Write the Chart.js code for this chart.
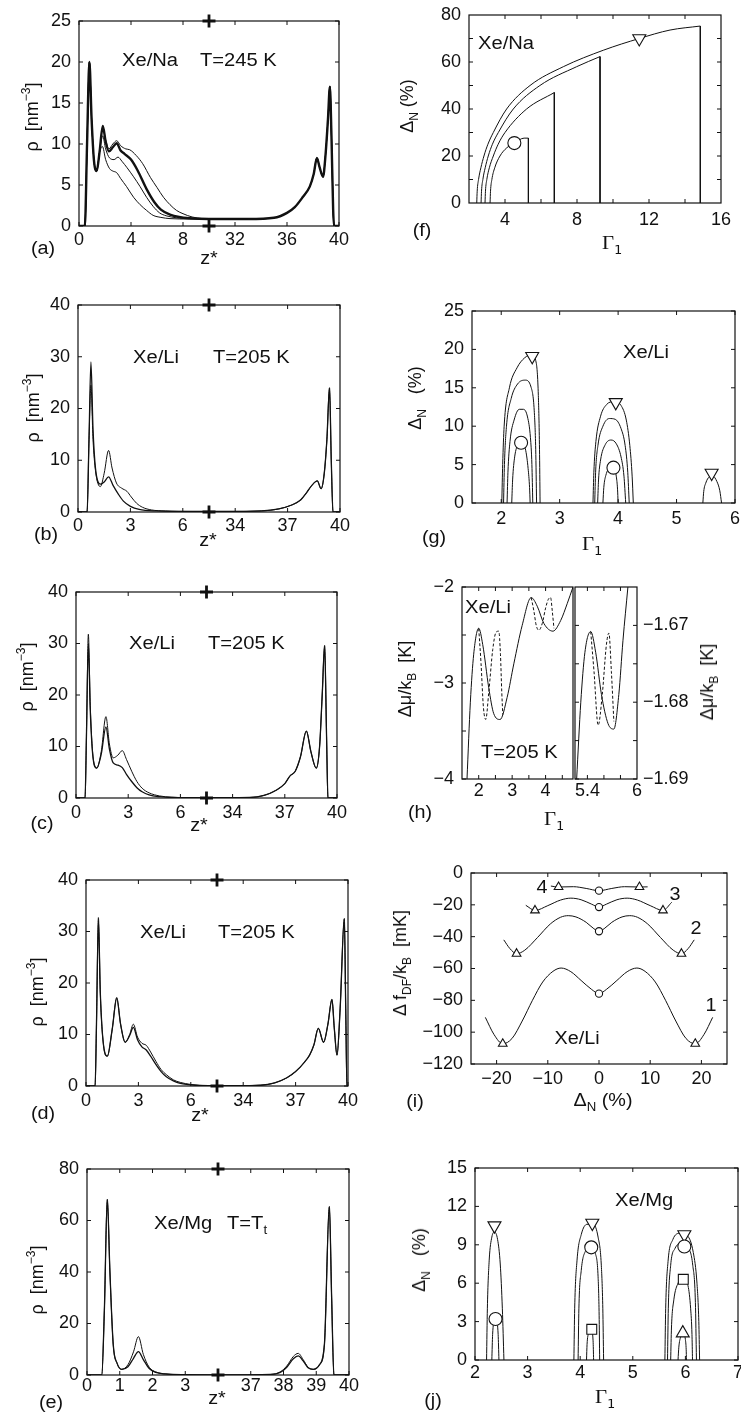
<!DOCTYPE html>
<html>
<head>
<meta charset="utf-8">
<script src="https://cdn.jsdelivr.net/npm/chart.js@4.4.1/dist/chart.umd.min.js"></script>
<style>
  body { margin: 0; background: #fff; width: 741px; height: 1412px; position: relative; overflow: hidden;
         font-family: "Liberation Sans", Arial, sans-serif; color: #111; }
  .t { position: absolute; white-space: nowrap; font-size: 18px; line-height: 1; z-index: 2;
       transform-origin: 0 50%; transform: translate(0, -50%) scaleX(1.12); }
  .c { transform-origin: 50% 50%; transform: translate(-50%, -50%) scaleX(1.1); }
  .r { transform-origin: 50% 50%; transform: translate(-50%, -50%) rotate(-90deg); }
  sub { font-size: 12px; vertical-align: -5px; line-height: 0; }
  sup { font-size: 12px; vertical-align: 8px; line-height: 0; }
  .g { font-family: "Liberation Serif", serif; font-size: 19px; }
  .g sub { font-family: "DejaVu Sans Mono", monospace; font-size: 12px; }
</style>
</head>
<body>
<script>
// ===================== data

// (a) Xe/Na, z* axis broken between 10 and 30
const aBreak = 10, aShift = 20;
const aTicks = [0, 4, 8, 12, 16, 20];
const aTickLabels = ['0', '4', '8', '32', '36', '40'];
const aHead = [[0,0],[0.45,0],[0.62,10],[0.8,20],[0.97,13],[1.15,8],[1.36,6.7],[1.58,9]];
const aRho1 = [[1.83,12.2],[2.05,10.3],[2.3,9.1],[2.6,9.6],[2.9,10.1],[3.2,9.2],[3.5,8.8],[4.0,8.1],[4.5,6.8],[5.2,4.5],[5.8,2.9],[6.3,2.0],[7.0,1.4],[7.7,1.1],[8.5,0.95],[10,0.85]];
const aRho2 = [[1.83,12.0],[2.05,10.5],[2.3,9.4],[2.6,10.0],[2.9,10.4],[3.2,9.8],[3.6,9.4],[3.9,9.3],[4.4,8.6],[4.9,7.6],[5.5,5.9],[6.0,4.7],[6.5,3.5],[7.0,2.6],[7.5,1.9],[8.0,1.5],[8.7,1.1],[9.5,0.9],[10,0.85]];
const aRho3 = [[1.82,11.0],[2.05,9.4],[2.35,8.3],[2.7,8.1],[3.0,8.4],[3.3,7.9],[3.7,7.1],[4.2,6.0],[4.7,4.8],[5.2,3.5],[5.7,2.4],[6.2,1.6],[6.7,1.25],[7.5,1.0],[8.5,0.9],[10,0.85]];
const aRho4 = [[1.8,9.7],[2.05,8.1],[2.35,7.0],[2.6,6.7],[2.9,6.5],[3.2,5.8],[3.66,4.8],[4.2,3.5],[4.7,2.6],[5.2,1.9],[5.7,1.3],[6.3,1.05],[7,0.9],[8.5,0.85],[10,0.85]];
const aTail = [[31,0.85],[33,0.85],[35,1.0],[36,1.6],[36.6,2.3],[37.2,3.5],[37.75,4.8],[38.05,6.3],[38.3,8.3],[38.5,7.2],[38.77,6.0],[38.97,8.8],[39.15,13],[39.3,17],[39.42,11],[39.55,2],[39.62,0],[40,0]];

// (b) Xe/Li, axis broken between 7.5 and 32.5
const bBreak = 7.5, bShift = 25;
const bTicks = [0, 3, 6, 9, 12, 15];
const bTickLabels = ['0', '3', '6', '34', '37', '40'];
const bHead = [[0,0],[0.52,0],[0.63,14]];
const bRho1 = [[0.74,24.5],[0.86,14],[1.0,8],[1.28,4.9],[1.5,7.5],[1.75,11.9],[1.95,8.5],[2.2,5.6],[2.5,4.6],[2.8,4.0],[3.05,2.9],[3.35,1.7],[3.7,0.9],[4.2,0.4],[5,0.2],[6.5,0.1]];
const bRho2 = [[0.74,29],[0.86,16],[1.0,8.5],[1.28,5.4],[1.5,5.8],[1.75,6.8],[2.0,5.2],[2.3,3.5],[2.6,2.1],[3.0,1.1],[3.5,0.5],[4.5,0.2],[6.5,0.1]];
const bTail = [[33.5,0.1],[35.5,0.2],[36.5,0.6],[37.2,1.3],[37.7,2.2],[38.1,3.8],[38.4,5.2],[38.7,6.0],[38.92,4.5],[39.1,7.5],[39.25,14],[39.4,24],[39.5,10],[39.6,0],[40,0]];

// (c) Xe/Li
const cHead = [[0,0],[0.52,0],[0.6,12]];
const cRho1 = [[0.71,31.8],[0.82,18],[0.98,8],[1.19,5.8],[1.45,9],[1.72,15.8],[1.92,10.5],[2.14,7.8],[2.4,8.3],[2.66,9.2],[2.9,7.5],[3.2,5.2],[3.5,3.2],[3.8,1.9],[4.2,1.0],[4.8,0.4],[5.5,0.15],[6.5,0.05]];
const cRho2 = [[0.71,30],[0.82,17],[0.98,7.8],[1.19,5.8],[1.45,8.5],[1.72,13.8],[1.92,9.5],[2.14,6.8],[2.4,6.4],[2.66,5.9],[2.9,4.6],[3.2,3.2],[3.5,2.0],[3.8,1.2],[4.2,0.6],[4.8,0.25],[5.5,0.1],[6.5,0.05]];
const cTail = [[33.5,0.05],[35,0.1],[35.8,0.5],[36.5,1.5],[37.0,2.8],[37.3,4.3],[37.6,5.2],[37.9,8],[38.24,13],[38.5,9],[38.81,5.8],[39.0,10],[39.15,20],[39.29,29.6],[39.4,12],[39.48,0],[40,0]];

// (d) Xe/Li
const dHead = [[0,0],[0.52,0],[0.6,12]];
const dRho1 = [[0.71,32.7],[0.82,18],[1.0,8],[1.22,5.8],[1.5,11],[1.76,17.2],[1.98,12],[2.24,8.5],[2.5,10],[2.71,12],[2.95,9.5],[3.2,8.3],[3.45,7.9],[3.7,6.6],[4.0,4.8],[4.3,3.2],[4.6,2.2],[5.0,1.2],[5.4,0.7],[6,0.3],[7,0.05]];
const dRho2 = [[0.71,32.2],[0.82,18],[1.0,8],[1.22,5.8],[1.5,11],[1.76,17.0],[1.98,12],[2.24,8.5],[2.5,9.8],[2.71,11.4],[2.95,9.0],[3.2,7.6],[3.45,7.0],[3.7,5.8],[4.0,4.2],[4.3,2.8],[4.6,1.8],[5.0,1.0],[5.4,0.5],[6,0.2],[7,0.05]];
const dTail = [[33.5,0.05],[35,0.15],[35.8,0.6],[36.5,1.6],[37.0,2.8],[37.5,4.6],[37.8,6.0],[38.05,8.0],[38.3,11.2],[38.6,8.5],[38.85,12],[39.08,16.8],[39.22,11],[39.37,6],[39.55,15],[39.79,32.5],[39.87,15],[39.94,0],[40,0]];

// (e) Xe/Mg, axis broken between 4 and 36
const eBreak = 4, eShift = 32;
const eTicks = [0, 1, 2, 3, 5, 6, 7, 8];
const eTickLabels = ['0', '1', '2', '3', '37', '38', '39', '40'];
const eHead = [[0,0],[0.45,0],[0.53,25],[0.62,68.2],[0.7,40],[0.8,12],[0.92,4.5],[1.06,2.2]];
const eRho1 = [[1.25,4],[1.42,9],[1.57,14.9],[1.72,8],[1.9,3],[2.1,1.2],[2.4,0.4],[3,0.1],[3.8,0]];
const eRho2 = [[1.25,3.2],[1.42,6.5],[1.57,9.1],[1.72,6],[1.9,2.5],[2.1,1.0],[2.4,0.4],[3,0.1],[3.8,0]];
const eTail1 = [[36.2,0],[37.6,0.2],[37.9,1.2],[38.1,3.5],[38.3,7.2],[38.45,8.4],[38.6,6],[38.75,3],[38.91,2.2],[39.1,4],[39.25,12],[39.4,65.4],[39.47,30],[39.54,0],[40,0]];
const eTail2 = [[36.2,0],[37.6,0.2],[37.9,1.0],[38.1,3.0],[38.3,6.3],[38.45,7.4],[38.6,5.5],[38.75,2.8],[38.91,2.2],[39.1,4],[39.25,12],[39.4,65.4],[39.47,30],[39.54,0],[40,0]];

// (f) Xe/Na, Delta_N vs Gamma_1
const fCurve1 = [[2.43,0],[2.455,5],[2.53,10],[2.66,15],[2.83,20],[3.05,25],[3.35,30],[4.09,40],[5.39,50],[7.24,58],[9.46,65],[11.46,70],[13.17,73.6],[14.85,75.3]];
const fCurve2 = [[2.67,0],[2.695,5],[2.77,10],[2.9,15],[3.07,20],[3.3,25],[3.63,30],[4.46,40],[5.94,50],[7.98,58],[9.28,62.3]];
const fCurve3 = [[2.89,0],[2.915,5],[2.99,10],[3.13,15],[3.35,20],[3.62,25],[4.0,30],[5.2,40],[6.74,47]];
const fCurve4 = [[3.17,0],[3.195,5],[3.27,10],[3.43,15],[3.72,20],[4.1,23.5],[4.52,25.5],[5.06,27.6],[5.3,27.6]];
const fCircle = [[4.52,25.5]];
const fTriangle = [[11.46,70]];

// (g) Xe/Li
const gA1 = [[2.01,0],[2.025,5],[2.05,10],[2.14,15],[2.27,17.6],[2.4,18.9],[2.52,19.3],[2.6,18.2],[2.635,14],[2.655,7],[2.665,0]];
const gA2 = [[2.04,0],[2.055,5],[2.09,10],[2.17,13.6],[2.28,15.5],[2.41,16],[2.51,15.1],[2.565,12],[2.59,7],[2.605,0]];
const gA3 = [[2.1,0],[2.115,4],[2.15,8],[2.22,10.8],[2.31,12.2],[2.38,12.2],[2.45,11.2],[2.5,8.5],[2.525,5],[2.54,0]];
const gA4 = [[2.18,0],[2.195,3],[2.23,6],[2.29,7.6],[2.36,7.9],[2.42,6.8],[2.46,4.5],[2.485,2],[2.495,0]];
const gB1 = [[3.57,0],[3.585,4],[3.62,8],[3.7,11.3],[3.8,12.8],[3.93,13.2],[4.05,12.7],[4.14,10.8],[4.2,7.5],[4.24,3.5],[4.26,0]];
const gB2 = [[3.6,0],[3.615,4],[3.655,7.5],[3.74,10],[3.85,11],[3.95,10.9],[4.05,9.7],[4.12,7.5],[4.165,4],[4.19,0]];
const gB3 = [[3.65,0],[3.665,3],[3.7,5.6],[3.78,7.6],[3.88,8.2],[3.97,7.7],[4.05,6.0],[4.1,3.5],[4.13,0]];
const gB4 = [[3.74,0],[3.755,2],[3.79,3.6],[3.86,4.5],[3.93,4.5],[3.97,3.4],[3.99,1.8],[4.0,0]];
const gC1 = [[5.45,0],[5.465,1.5],[5.5,2.6],[5.56,3.4],[5.62,3.5],[5.69,2.8],[5.74,1.6],[5.77,0]];
const gTriangles = [[2.53,19.1],[3.96,13.1],[5.6,3.9]];
const gCircles = [[2.34,7.85],[3.92,4.6]];

// (h) chemical potential, two x ranges
const hSolidL = [[1.65,-4],[1.75,-3.2],[1.85,-2.7],[2.0,-2.43],[2.12,-2.6],[2.3,-3.05],[2.45,-3.32],[2.64,-3.38],[2.85,-3.15],[3.05,-2.8],[3.3,-2.4],[3.57,-2.11],[3.75,-2.2],[3.95,-2.38],[4.22,-2.46],[4.45,-2.35],[4.65,-2.17],[4.82,-2.0]];
const hDashL1 = [[2.0,-2.43],[2.07,-2.8],[2.14,-3.25],[2.21,-3.38],[2.3,-3.1],[2.42,-2.65],[2.52,-2.47],[2.6,-2.46],[2.65,-2.7],[2.69,-3.1],[2.72,-3.33]];
const hDashL2 = [[3.57,-2.11],[3.65,-2.25],[3.72,-2.4],[3.8,-2.45],[3.9,-2.38],[4.0,-2.22],[4.08,-2.13],[4.15,-2.11],[4.2,-2.25],[4.25,-2.43]];
const hSolidR = [[5.27,-1.69],[5.32,-1.68],[5.37,-1.6735],[5.44,-1.6708],[5.5,-1.6735],[5.57,-1.679],[5.65,-1.6828],[5.72,-1.6835],[5.78,-1.679],[5.83,-1.672],[5.89,-1.665]];
const hDashR = [[5.44,-1.6708],[5.48,-1.676],[5.53,-1.683],[5.58,-1.679],[5.63,-1.6725],[5.66,-1.671],[5.69,-1.676],[5.72,-1.6825]];

// (i) free energy vs Delta_N
const iCurve1 = [[-22.2,-90.7],[-20.5,-101.5],[-18.8,-107.3],[-17,-104],[-15,-93],[-13,-80],[-11,-68.5],[-9,-61.8],[-7.4,-59.7],[-5.5,-62],[-3.5,-67.5],[-1.5,-73],[0,-75.8],[1.5,-73],[3.5,-67.5],[5.5,-62],[7.4,-59.7],[9,-61.8],[11,-68.5],[13,-80],[15,-93],[17,-104],[18.8,-107.3],[20.5,-101.5],[22.2,-90.7]];
const iCurve2 = [[-18.6,-42],[-17.4,-47.5],[-16.1,-50.7],[-14.5,-48.5],[-12,-40.5],[-9.5,-32],[-7.5,-27.8],[-6,-26.8],[-4.5,-27.6],[-2.5,-31],[-1,-35],[0,-36.6],[1,-35],[2.5,-31],[4.5,-27.6],[6,-26.8],[7.5,-27.8],[9.5,-32],[12,-40.5],[14.5,-48.5],[16.1,-50.7],[17.4,-47.5],[18.6,-42]];
const iCurve3 = [[-14.3,-20.3],[-12.5,-23.5],[-10,-20.5],[-7.5,-17],[-5.5,-15.8],[-3.5,-16.8],[-1.5,-19.5],[0,-21.4],[1.5,-19.5],[3.5,-16.8],[5.5,-15.8],[7.5,-17],[10,-20.5],[12.5,-23.5],[14.2,-18.4]];
const iCurve4 = [[-9.4,-8.2],[-7.9,-8.8],[-5,-8.6],[-2.5,-9.7],[0,-11.1],[2.5,-9.7],[5,-8.6],[7.9,-8.8],[9.5,-8.7]];
const iTriangles = [[-18.8,-107.3],[18.8,-107.3],[-16.1,-50.7],[16.1,-50.7],[-12.5,-23.5],[12.5,-23.5],[-7.9,-8.8],[7.9,-8.8]];
const iCircles = [[0,-75.8],[0,-36.6],[0,-21.4],[0,-11.1]];

// (j) Xe/Mg
const jA1 = [[2.22,0],[2.235,4],[2.27,7.8],[2.32,9.6],[2.37,10],[2.43,9.4],[2.48,7.5],[2.52,4],[2.55,0]];
const jA2 = [[2.32,0],[2.335,2],[2.37,3.0],[2.41,3.0],[2.44,2],[2.455,0]];
const jB1 = [[3.88,0],[3.895,4],[3.94,7.8],[4.02,9.8],[4.13,10.6],[4.25,10.6],[4.34,9.6],[4.4,7.5],[4.43,4],[4.445,0]];
const jB2 = [[3.96,0],[3.975,4],[4.02,7],[4.1,8.5],[4.2,8.8],[4.29,8.3],[4.34,6.5],[4.36,3.5],[4.37,0]];
const jB3 = [[4.12,0],[4.13,1.2],[4.16,2.1],[4.21,2.4],[4.245,1.5],[4.255,0]];
const jC1 = [[5.61,0],[5.625,4],[5.67,7.7],[5.76,9.4],[5.9,9.9],[6.04,9.7],[6.15,8.4],[6.22,6],[6.255,3],[6.27,0]];
const jC2 = [[5.66,0],[5.675,4],[5.72,7.4],[5.8,8.7],[5.93,9.1],[6.05,8.8],[6.14,7.4],[6.19,4.5],[6.21,0]];
const jC3 = [[5.72,0],[5.735,2.5],[5.78,4.7],[5.86,6.0],[5.96,6.4],[6.05,5.8],[6.1,4],[6.125,2],[6.135,0]];
const jC4 = [[5.86,0],[5.875,1],[5.91,1.8],[5.96,2.1],[6.0,1.6],[6.015,0.8],[6.02,0]];
const jTriangles = [[2.37,10.5],[4.23,10.7],[5.98,9.8]];
const jCircles = [[2.39,3.2],[4.21,8.8],[5.98,8.87]];
const jSquares = [[4.22,2.4],[5.96,6.3]];
const jUp = [[5.95,2.1]];

// ===================== helpers

const BLACK = '#111';
const FONT = {family: 'Liberation Sans', size: 18};

function num(v) { return String(v).replace('-', '\u2212'); }
function brk(cut, shift) { return z => (z <= cut ? z : z - shift); }
function pts(a, f) { return a.map(p => ({x: f ? f(p[0]) : p[0], y: p[1]})); }

function line(a, opt) {
  return Object.assign({data: a, borderColor: BLACK, borderWidth: 1, pointRadius: 0,
    cubicInterpolationMode: 'monotone', fill: false, borderJoinStyle: 'round', order: 1}, opt || {});
}
function marks(a, style, r, rot) {
  return {type: 'scatter', data: pts(a), pointStyle: style, pointRadius: r, pointRotation: rot || 0,
    pointBackgroundColor: '#fff', pointBorderColor: BLACK, pointBorderWidth: 1.1, clip: false, order: -1};
}
function cross(a) {
  return {type: 'scatter', data: pts(a), pointStyle: 'cross', pointRadius: 6.5,
    pointBorderColor: BLACK, pointBorderWidth: 2.8, clip: false, order: -2};
}

// matlab-like box with inward ticks
const frame = {
  id: 'frame',
  afterDatasetsDraw(chart, args, o) {
    const {ctx, chartArea: a, scales} = chart;
    const L = 4;
    ctx.save();
    ctx.strokeStyle = BLACK;
    ctx.lineWidth = 1.2;
    ctx.strokeRect(a.left, a.top, a.right - a.left, a.bottom - a.top);
    ctx.lineWidth = 1;
    ctx.beginPath();
    o.xm.forEach(v => {
      const p = scales.x.getPixelForValue(v);
      ctx.moveTo(p, a.bottom); ctx.lineTo(p, a.bottom - L);
      ctx.moveTo(p, a.top); ctx.lineTo(p, a.top + L);
    });
    o.ym.forEach(v => {
      const p = scales.y.getPixelForValue(v);
      if (o.left) { ctx.moveTo(a.left, p); ctx.lineTo(a.left + L, p); }
      if (o.right) { ctx.moveTo(a.right, p); ctx.lineTo(a.right - L, p); }
    });
    ctx.stroke();
    ctx.restore();
  }
};

function makePanel(o) {
  const m = Object.assign({L: 62, R: 24, T: 14, B: 34}, o.m || {});
  const [l, t, r, b] = o.box;
  const W = r - l + m.L + m.R, H = b - t + m.T + m.B;
  const cv = document.createElement('canvas');
  cv.width = W; cv.height = H;
  cv.style.cssText = 'position:absolute;left:' + (l - m.L) + 'px;top:' + (t - m.T) + 'px;width:' + W + 'px;height:' + H + 'px';
  document.body.appendChild(cv);
  const yRight = !!o.yRight;
  return new Chart(cv, {
    type: 'line',
    data: {datasets: o.sets},
    plugins: [frame],
    options: {
      responsive: false, animation: false, events: [],
      layout: {padding: {left: yRight ? m.L : 0, right: yRight ? 0 : m.R, top: m.T, bottom: 0}},
      scales: {
        x: {type: 'linear', min: o.x[0], max: o.x[1],
          afterBuildTicks: s => { s.ticks = o.xt.map(v => ({value: v})); },
          afterFit: s => { s.height = m.B; s.paddingLeft = 0; s.paddingRight = 0; },
          ticks: {autoSkip: false, maxRotation: 0, padding: o.xpad == null ? 4 : o.xpad, font: FONT, color: BLACK,
            callback: (v, i) => (o.xl ? o.xl[i] : num(v))},
          grid: {display: false, drawTicks: false}, border: {display: false}},
        y: {type: 'linear', position: yRight ? 'right' : 'left', min: o.y[0], max: o.y[1],
          afterBuildTicks: s => { s.ticks = o.yt.map(v => ({value: v})); },
          afterFit: s => { s.width = yRight ? m.R : m.L; s.paddingTop = 0; s.paddingBottom = 0; },
          ticks: {autoSkip: false, padding: o.ypad == null ? 8 : o.ypad, font: FONT, color: BLACK,
            callback: (v, i) => (o.yl ? o.yl[i] : num(v))},
          grid: {display: false, drawTicks: false}, border: {display: false}}
      },
      plugins: {legend: {display: false}, tooltip: {enabled: false},
        frame: {xm: o.xm || o.xt, ym: o.ym || o.yt, left: o.tickL !== false, right: o.tickR !== false}}
    }
  });
}

function txt(html, x, y, cls) {
  const d = document.createElement('div');
  d.className = 't' + (cls ? ' ' + cls : '');
  d.style.left = x + 'px';
  d.style.top = y + 'px';
  d.innerHTML = html;
  document.body.appendChild(d);
}

const RHO = '\u03c1&nbsp;&nbsp;[nm<sup>\u22123</sup>]';
const GAM = '<span class="g">\u0393<sub>1</sub></span>';
const DN = '\u0394<sub>N</sub>&nbsp;(%)';
const DMU = '\u0394\u03bc/k<sub>B</sub>&nbsp;&nbsp;[K]';

// ===================== left column: density profiles

const fa = brk(aBreak, aShift);
makePanel({box: [79, 21, 339, 226], x: [0, 20], y: [0, 25], xt: aTicks, xl: aTickLabels, yt: [0, 5, 10, 15, 20, 25], xpad: 3,
  sets: [
    line(pts(aHead.concat(aRho4, aTail), fa)),
    line(pts(aHead.concat(aRho3, aTail), fa)),
    line(pts(aHead.concat(aRho2, aTail), fa)),
    line(pts(aHead.concat(aRho1, aTail), fa), {borderWidth: 2.4}),
    cross([[aBreak, 0], [aBreak, 25]])
  ]});

const fb = brk(bBreak, bShift);
makePanel({box: [78, 305, 340, 512], x: [0, 15], y: [0, 40], xt: bTicks, xl: bTickLabels, yt: [0, 10, 20, 30, 40], xpad: 3,
  sets: [
    line(pts(bHead.concat(bRho1, bTail), fb)),
    line(pts(bHead.concat(bRho2, bTail), fb), {borderWidth: 1.3}),
    cross([[bBreak, 0], [bBreak, 40]])
  ]});

makePanel({box: [76, 592, 337, 798], x: [0, 15], y: [0, 40], xt: bTicks, xl: bTickLabels, yt: [0, 10, 20, 30, 40], xpad: 4,
  sets: [
    line(pts(cHead.concat(cRho1, cTail), fb)),
    line(pts(cHead.concat(cRho2, cTail), fb), {borderWidth: 1.3}),
    cross([[bBreak, 0], [bBreak, 40]])
  ]});

makePanel({box: [86, 880, 348, 1086], x: [0, 15], y: [0, 40], xt: bTicks, xl: bTickLabels, yt: [0, 10, 20, 30, 40], xpad: 4,
  sets: [
    line(pts(dHead.concat(dRho1, dTail), fb)),
    line(pts(dHead.concat(dRho2, dTail), fb), {borderWidth: 1.3}),
    cross([[bBreak, 0], [bBreak, 40]])
  ]});

const fe = brk(eBreak, eShift);
makePanel({box: [87, 1169, 349, 1375], x: [0, 8], y: [0, 80], xt: eTicks, xl: eTickLabels, yt: [0, 20, 40, 60, 80], xpad: 0,
  sets: [
    line(pts(eHead.concat(eRho1, eTail1), fe)),
    line(pts(eHead.concat(eRho2, eTail2), fe), {borderWidth: 1.3}),
    cross([[eBreak, 0], [eBreak, 80]])
  ]});

// ===================== right column

const fDrops = [fCurve1, fCurve2, fCurve3, fCurve4].map(c => c[c.length - 1]);
makePanel({box: [469, 15, 721, 203], x: [2, 16], y: [0, 80], xt: [4, 8, 12, 16], xm: [4, 6, 8, 10, 12, 14], yt: [0, 20, 40, 60, 80], ym: [10, 20, 30, 40, 50, 60, 70], xpad: 6,
  sets: [
    line(pts(fCurve1)), line(pts(fCurve2)), line(pts(fCurve3)), line(pts(fCurve4)),
    ...fDrops.map(p => line(pts([p, [p[0], 0]]), {cubicInterpolationMode: 'default'})),
    marks(fCircle, 'circle', 6.5),
    marks(fTriangle, 'triangle', 7.5, 180)
  ]});

makePanel({box: [472, 311, 735, 503], x: [1.5, 6], y: [0, 25], xt: [2, 3, 4, 5, 6], yt: [0, 5, 10, 15, 20, 25], xpad: 5,
  sets: [
    ...[gA1, gA2, gA3, gA4, gB1, gB2, gB3, gB4, gC1].map(a => line(pts(a))),
    marks(gCircles, 'circle', 6.5),
    marks(gTriangles, 'triangle', 7.5, 180)
  ]});

makePanel({box: [462, 587, 573, 779], m: {R: 3}, x: [1.5, 4.82], y: [-4, -2], xt: [2, 3, 4], xm: [2, 2.5, 3, 3.5, 4, 4.5], yt: [-4, -3, -2], ym: [-4, -3.5, -3, -2.5, -2], tickR: false, xpad: 1,
  sets: [
    line(pts(hSolidL)),
    line(pts(hDashL1), {borderDash: [3, 2]}),
    line(pts(hDashL2), {borderDash: [3, 2]})
  ]});

makePanel({box: [575, 587, 637, 779], yRight: true, m: {L: 4, R: 70}, x: [5.25, 6.0], y: [-1.69, -1.665], xt: [5.4, 6], xm: [5.4, 5.6, 5.8], yt: [-1.69, -1.68, -1.67], ym: [-1.69, -1.685, -1.68, -1.675, -1.67], ypad: 6, xpad: 1,
  sets: [
    line(pts(hSolidR)),
    line(pts(hDashR), {borderDash: [3, 2]})
  ]});

makePanel({box: [471, 873, 727, 1064], x: [-25, 25], y: [-120, 0], xt: [-20, -10, 0, 10, 20], yt: [-120, -100, -80, -60, -40, -20, 0], xpad: 4,
  sets: [
    line(pts(iCurve1)), line(pts(iCurve2)), line(pts(iCurve3)), line(pts(iCurve4)),
    marks(iCircles, 'circle', 3.6),
    marks(iTriangles, 'triangle', 5)
  ]});

makePanel({box: [475, 1168, 738, 1360], x: [2, 7], y: [0, 15], xt: [2, 3, 4, 5, 6, 7], yt: [0, 3, 6, 9, 12, 15], xpad: 2,
  sets: [
    ...[jA1, jA2, jB1, jB2, jB3, jC1, jC2, jC3, jC4].map(a => line(pts(a))),
    marks(jCircles, 'circle', 6.5),
    marks(jSquares, 'rect', 7),
    marks(jUp, 'triangle', 7.5),
    marks(jTriangles, 'triangle', 7.5, 180)
  ]});

// ===================== text

txt('Xe/Na', 122, 60); txt('T=245 K', 200, 60);
txt(RHO, 32, 117, 'r'); txt('z*', 209, 258, 'c'); txt('(a)', 43, 248, 'c');

txt('Xe/Li', 133, 357); txt('T=205 K', 213, 357);
txt(RHO, 33, 408, 'r'); txt('z*', 208, 540, 'c'); txt('(b)', 46, 534, 'c');

txt('Xe/Li', 129, 643); txt('T=205 K', 208, 643);
txt(RHO, 27, 677, 'r'); txt('z*', 199, 825, 'c'); txt('(c)', 42, 823, 'c');

txt('Xe/Li', 140, 932); txt('T=205 K', 218, 932);
txt(RHO, 37, 992, 'r'); txt('z*', 200, 1115, 'c'); txt('(d)', 43, 1113, 'c');

txt('Xe/Mg', 154, 1223); txt('T=T<sub>t</sub>', 227, 1223);
txt(RHO, 37, 1280, 'r'); txt('z*', 217, 1398, 'c'); txt('(e)', 51, 1402, 'c');

txt('Xe/Na', 478, 43);
txt(DN, 407, 106, 'r'); txt(GAM, 612, 242, 'c'); txt('(f)', 422, 230, 'c');

txt('Xe/Li', 623, 352);
txt('\u0394<sub>N</sub>&nbsp;&nbsp;&nbsp;(%)', 415, 398, 'r'); txt(GAM, 592, 543, 'c'); txt('(g)', 434, 537, 'c');

txt('Xe/Li', 465, 607); txt('T=205 K', 481, 752);
txt(DMU, 405, 679, 'r'); txt(DMU, 707, 682, 'r'); txt(GAM, 554, 818, 'c'); txt('(h)', 420, 812, 'c');

txt('Xe/Li', 577, 1038, 'c');
txt('4', 542, 887, 'c'); txt('3', 675, 894, 'c'); txt('2', 696, 928, 'c'); txt('1', 711, 1005, 'c');
txt('\u0394 f<sub>DF</sub>/k<sub>B</sub>&nbsp;&nbsp;[mK]', 400, 963, 'r'); txt(DN, 603, 1100, 'c'); txt('(i)', 415, 1101, 'c');

txt('Xe/Mg', 615, 1200);
txt('\u0394<sub>N</sub>&nbsp;&nbsp;&nbsp;(%)', 419, 1260, 'r'); txt(GAM, 605, 1396, 'c'); txt('(j)', 433, 1400, 'c');
</script>
</body>
</html>
